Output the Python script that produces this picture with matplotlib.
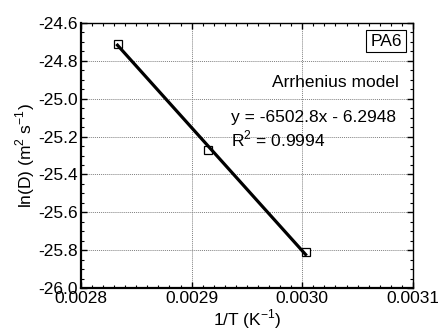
import matplotlib
matplotlib.use('Agg')
import matplotlib.pyplot as plt
from matplotlib.ticker import MultipleLocator, FormatStrFormatter

plt.rcParams['font.family'] = ['Liberation Sans', 'DejaVu Sans']
plt.rcParams['mathtext.fontset'] = 'custom'
plt.rcParams['mathtext.rm'] = 'Liberation Sans'

# --- data ---
inv_T = [0.002833, 0.002915, 0.003003]
ln_D = [-24.71, -25.27, -25.81]
slope, intercept = -6502.8, -6.2948
r2 = 0.9994

FS = 12.5

fig = plt.figure(figsize=(4.39, 3.33), dpi=100)
ax = fig.add_axes([0.1845, 0.135, 0.756, 0.796])

# fitted line across the data range
fit_x = [inv_T[0], inv_T[-1]]
fit_y = [slope * x + intercept for x in fit_x]
ax.plot(fit_x, fit_y, color='black', lw=2.3, zorder=3)
ax.plot(inv_T, ln_D, ls='none', marker='s', ms=6, mfc='white', mec='black',
        mew=0.9, zorder=2)

ax.set_xlim(0.0028, 0.0031)
ax.set_ylim(-26.0, -24.6)
ax.xaxis.set_major_locator(MultipleLocator(0.0001))
ax.xaxis.set_minor_locator(MultipleLocator(0.00001))
ax.yaxis.set_major_locator(MultipleLocator(0.2))
ax.yaxis.set_minor_locator(MultipleLocator(0.05))
ax.xaxis.set_major_formatter(FormatStrFormatter('%.4f'))
ax.yaxis.set_major_formatter(FormatStrFormatter('%.1f'))

ax.tick_params(which='both', direction='in', top=True, right=True, labelsize=FS)
ax.tick_params(axis='y', pad=2)
ax.tick_params(axis='x', pad=2)
ax.tick_params(which='major', length=4, width=1)
ax.tick_params(which='minor', length=2, width=0.8)
ax.grid(True, which='major', color='#808080', ls=(0, (1, 1)), lw=0.7)

for side in ['left', 'bottom']:
    ax.spines[side].set_linewidth(1.6)
for side in ['top', 'right']:
    ax.spines[side].set_linewidth(1.0)

ax.set_xlabel('1/T (K$^{-1}$)', fontsize=FS, labelpad=1)
ax.set_ylabel('ln(D) (m$^2$ s$^{-1}$)', fontsize=FS, labelpad=1)

ax.text(0.919, 0.932, 'PA6', transform=ax.transAxes, ha='center', va='center', fontsize=FS,
        bbox=dict(boxstyle='square,pad=0.22', fc='white', ec='black', lw=0.8))
ax.text(0.958, 0.774, 'Arrhenius model', transform=ax.transAxes, ha='right', va='center',
        fontsize=FS)
ax.text(0.452, 0.645, 'y = -6502.8x - 6.2948', transform=ax.transAxes, ha='left',
        va='center', fontsize=FS)
ax.text(0.452, 0.562, 'R$^2$ = 0.9994', transform=ax.transAxes, ha='left',
        va='center', fontsize=FS)

fig.savefig('out.png', dpi=100, facecolor='white')
